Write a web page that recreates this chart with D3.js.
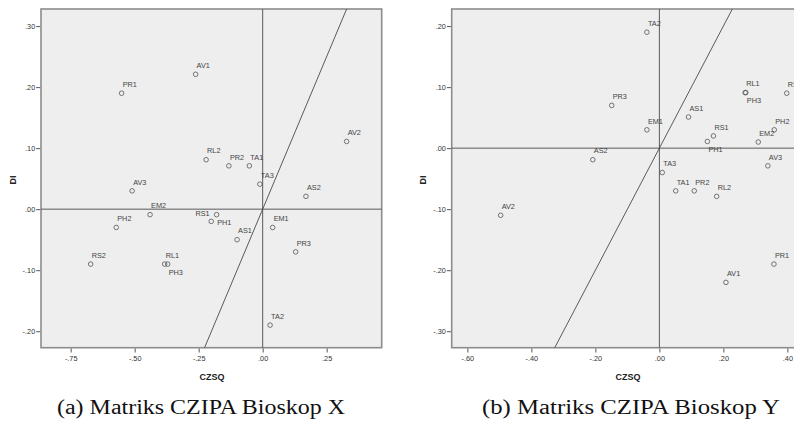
<!DOCTYPE html>
<html>
<head>
<meta charset="utf-8">
<script src="https://cdn.jsdelivr.net/npm/d3@7"></script>
<style>
  body { margin: 0; background: #fff; overflow: hidden; }
  svg { display: block; }
</style>
</head>
<body>
<div id="chart"></div>
<script>
// attribute codes, same order in both matrices
const codes = ["TA1", "TA2", "TA3", "PR1", "PR2", "PR3", "AV1", "AV2", "AV3", "AS1",
               "AS2", "EM1", "EM2", "RS1", "RS2", "PH1", "PH2", "PH3", "RL1", "RL2"];

// (a) Bioskop X
const czsqX = [-0.052, 0.029, -0.011, -0.551, -0.132, 0.129, -0.262, 0.328, -0.510, -0.100,
               0.169, 0.039, -0.440, -0.180, -0.672, -0.201, -0.572, -0.371, -0.383, -0.221];
const diX   = [0.071, -0.190, 0.041, 0.190, 0.071, -0.070, 0.221, 0.111, 0.030, -0.050,
               0.021, -0.030, -0.009, -0.009, -0.090, -0.020, -0.030, -0.090, -0.090, 0.081];

// (b) Bioskop Y
const czsqY = [0.051, -0.039, 0.009, 0.358, 0.109, -0.149, 0.208, -0.496, 0.339, 0.091,
               -0.208, -0.039, 0.309, 0.169, 0.398, 0.150, 0.359, 0.270, 0.268, 0.179];
const diY   = [-0.070, 0.190, -0.040, -0.190, -0.070, 0.070, -0.220, -0.110, -0.029, 0.051,
               -0.019, 0.030, 0.010, 0.020, 0.090, 0.011, 0.030, 0.091, 0.091, -0.079];

const xTicksX = [-0.75, -0.5, -0.25, 0, 0.25];
const yTicksX = [-0.2, -0.1, 0, 0.1, 0.2, 0.3];
const xTicksY = [-0.6, -0.4, -0.2, 0, 0.2, 0.4];
const yTicksY = [-0.3, -0.2, -0.1, 0, 0.1, 0.2];

const captionX = "(a) Matriks CZIPA Bioskop X";
const captionY = "(b) Matriks CZIPA Bioskop Y";

// label placements that differ from the default (above right)
const labelPosX = { RS1: "left", PH1: "right", PH3: "below" };
const labelPosY = { PH1: "below", PH3: "below" };

const svg = d3.select("#chart").append("svg")
    .attr("width", 794)
    .attr("height", 422);

function fmt(v) {
    let s = Math.abs(v).toFixed(2).replace(/^0/, "");
    return (v < -1e-9 ? "-" : "") + s;
}

function drawPanel(opt) {
    const x = d3.scaleLinear().domain(opt.xDomain).range(opt.xRange);
    const y = d3.scaleLinear().domain(opt.yDomain).range([347.7, 9]);
    const g = svg.append("g");

    g.append("rect")
        .attr("x", opt.xRange[0]).attr("y", 9)
        .attr("width", opt.xRange[1] - opt.xRange[0]).attr("height", 338.7)
        .attr("fill", "#eeeeee")
        .attr("stroke", "#8c8c8c")
        .attr("stroke-width", 1.6);

    // reference lines
    g.append("line")
        .attr("x1", x(0)).attr("x2", x(0)).attr("y1", 9).attr("y2", 347.7)
        .attr("stroke", "#5a5a5a").attr("stroke-width", 1);
    g.append("line")
        .attr("x1", opt.xRange[0]).attr("x2", opt.xRange[1]).attr("y1", y(0)).attr("y2", y(0))
        .attr("stroke", "#5a5a5a").attr("stroke-width", 1);

    // diagonal y = x, clipped to plot
    const lo = Math.max(opt.xDomain[0], opt.yDomain[0]);
    const hi = Math.min(opt.xDomain[1], opt.yDomain[1]);
    g.append("line")
        .attr("x1", x(lo)).attr("y1", y(lo)).attr("x2", x(hi)).attr("y2", y(hi))
        .attr("stroke", "#4a4a4a").attr("stroke-width", 0.9);

    const xAxis = g.append("g")
        .attr("transform", "translate(0,348.5)")
        .call(d3.axisBottom(x).tickValues(opt.xTicks).tickFormat(fmt).tickSize(4).tickPadding(3));
    const yAxis = g.append("g")
        .attr("transform", "translate(" + (opt.xRange[0] - 0.8) + ",0)")
        .call(d3.axisLeft(y).tickValues(opt.yTicks).tickFormat(fmt).tickSize(4).tickPadding(1));
    [xAxis, yAxis].forEach(a => {
        a.select(".domain").remove();
        a.selectAll(".tick line").attr("stroke", "#555");
        a.selectAll(".tick text")
            .attr("font-family", "Arial, 'Liberation Sans', sans-serif")
            .attr("font-size", 7.3)
            .attr("fill", "#333");
    });

    const pts = codes.map((c, i) => ({ code: c, cx: opt.xs[i], cy: opt.ys[i] }));

    g.selectAll("circle.pt")
        .data(pts).enter().append("circle")
        .attr("class", "pt")
        .attr("cx", d => x(d.cx))
        .attr("cy", d => y(d.cy))
        .attr("r", 2.3)
        .attr("fill", "none")
        .attr("stroke", "#555")
        .attr("stroke-width", 0.8);

    g.selectAll("text.lbl")
        .data(pts).enter().append("text")
        .attr("class", "lbl")
        .attr("font-family", "Arial, 'Liberation Sans', sans-serif")
        .attr("font-size", 7.3)
        .attr("fill", "#444")
        .attr("x", d => {
            const p = opt.labelPos[d.code];
            if (p === "left") return x(d.cx) - 7;
            if (p === "right") return x(d.cx) + 6;
            return x(d.cx) + 1;
        })
        .attr("y", d => {
            const p = opt.labelPos[d.code];
            if (p === "left") return y(d.cy) + 1.5;
            if (p === "right") return y(d.cy) + 4;
            if (p === "below") return y(d.cy) + 10.5;
            return y(d.cy) - 6.3;
        })
        .attr("text-anchor", d => opt.labelPos[d.code] === "left" ? "end" : "start")
        .text(d => d.code);

    g.append("text")
        .attr("transform", "translate(" + opt.diX + ",180) rotate(-90)")
        .attr("text-anchor", "middle")
        .attr("dominant-baseline", "central")
        .attr("font-family", "Arial, 'Liberation Sans', sans-serif")
        .attr("font-size", 9)
        .attr("font-weight", "bold")
        .attr("fill", "#222")
        .text("DI");

    g.append("text")
        .attr("x", opt.titleX).attr("y", 380)
        .attr("text-anchor", "middle")
        .attr("font-family", "Arial, 'Liberation Sans', sans-serif")
        .attr("font-size", 9)
        .attr("font-weight", "bold")
        .attr("fill", "#222")
        .text("CZSQ");

    g.append("text")
        .attr("x", opt.captionX - opt.captionW / 2).attr("y", 414)
        .attr("font-family", "'Liberation Serif', 'Times New Roman', serif")
        .attr("font-size", 20)
        .attr("textLength", opt.captionW)
        .attr("lengthAdjust", "spacingAndGlyphs")
        .attr("fill", "#111")
        .text(opt.caption);
}

drawPanel({
    xDomain: [-0.866, 0.465], xRange: [41, 381.7],
    yDomain: [-0.227, 0.328],
    xTicks: xTicksX, yTicks: yTicksX,
    xs: czsqX, ys: diX, labelPos: labelPosX,
    diX: 13, titleX: 212, captionX: 201, captionW: 288, caption: captionX
});

drawPanel({
    xDomain: [-0.649, 0.47], xRange: [451.7, 451.7 + 320 * 1.119],
    yDomain: [-0.327, 0.228],
    xTicks: xTicksY, yTicks: yTicksY,
    xs: czsqY, ys: diY, labelPos: labelPosY,
    diX: 423, titleX: 628, captionX: 631, captionW: 298, caption: captionY
});
</script>
</body>
</html>
